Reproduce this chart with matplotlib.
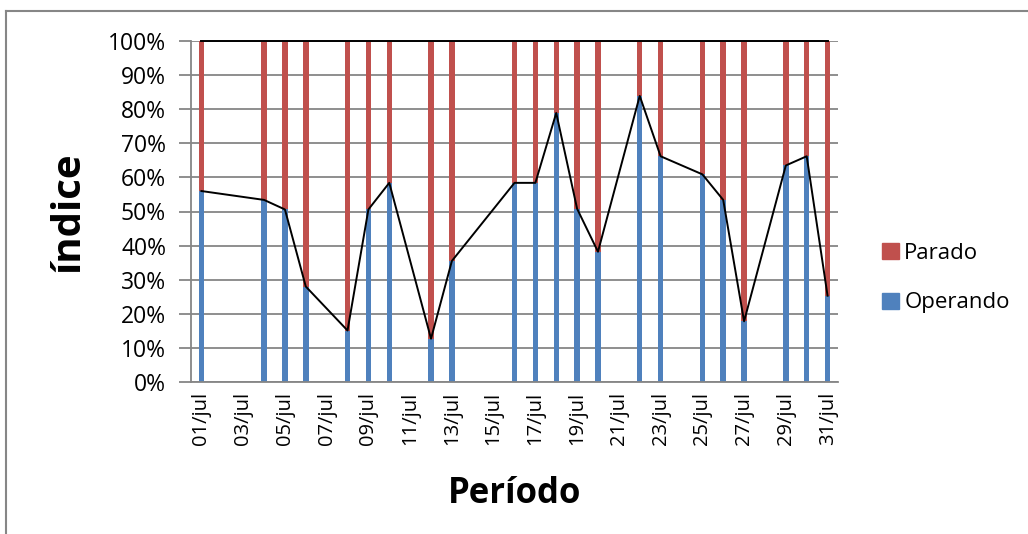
import numpy as np
import matplotlib.pyplot as plt
from matplotlib.patches import Patch
from matplotlib.lines import Line2D

plt.rcParams['font.family'] = ['Open Sans', 'DejaVu Sans']

# days of July with records, and share of time the machine was operating
dias = [1, 4, 5, 6, 8, 9, 10, 12, 13, 16, 17, 18, 19, 20, 22, 23, 25, 26, 27, 29, 30, 31]
operando = [0.560, 0.534, 0.506, 0.280, 0.151, 0.506, 0.584, 0.127, 0.355,
            0.584, 0.584, 0.789, 0.508, 0.382, 0.839, 0.662, 0.609, 0.534,
            0.178, 0.635, 0.662, 0.253]
parado = [1 - v for v in operando]
total = [a + b for a, b in zip(operando, parado)]

labels_x = ['%02d/jul' % d for d in range(1, 32, 2)]

azul = '#4F81BD'
vermelho = '#C0504D'
cinza = '#868686'

fig = plt.figure(figsize=(10.28, 5.34), dpi=100)
ax = fig.add_axes([191 / 1028, 1 - 382 / 534, 647 / 1028, 341 / 534])

ax.bar(dias, operando, width=0.26, color=azul, zorder=2)
ax.bar(dias, parado, width=0.26, bottom=operando, color=vermelho, zorder=2)
ax.plot(dias, operando, color='black', lw=1.4, zorder=3)
ax.plot(dias, total, color='black', lw=1.4, zorder=3, clip_on=False)

ax.set_xlim(0.5, 31.5)
ax.set_ylim(0, 1)
ax.set_yticks(np.arange(0, 1.01, 0.1))
ax.set_yticklabels(['%d%%' % (v * 10) for v in range(11)], fontsize=16.5)
ax.set_xticks(range(1, 32, 2))
ax.set_xticklabels(labels_x, rotation=90, fontsize=14.5)
ax.tick_params(axis='y', length=9, width=1.3, color=cinza, pad=9)
ax.tick_params(axis='x', length=0, pad=7)

ax.grid(axis='y', color=cinza, lw=1.3, zorder=0)
ax.set_axisbelow(True)
for s in ['top', 'right']:
    ax.spines[s].set_visible(False)
for s in ['left', 'bottom']:
    ax.spines[s].set_color(cinza)
    ax.spines[s].set_linewidth(1.3)

ax.set_ylabel('índice', fontsize=29, fontweight='bold')
ax.set_xlabel('Período', fontsize=25, fontweight='bold')
ax.yaxis.set_label_coords(-0.16, 0.5)
ax.xaxis.set_label_coords(0.5, -0.275)

handles = [Patch(color=vermelho, label='Parado'), Patch(color=azul, label='Operando')]
fig.legend(handles=handles, loc='center left', bbox_to_anchor=(862 / 1028, 1 - 278 / 534),
           frameon=False, fontsize=16, handlelength=0.75, handleheight=0.75,
           handletextpad=0.25, labelspacing=1.3)

# outer chart frame
fig.add_artist(Line2D([6 / 1028, 6 / 1028], [0, 1 - 11 / 534], transform=fig.transFigure,
                      color=cinza, lw=1.5))
fig.add_artist(Line2D([6 / 1028, 1], [1 - 11 / 534, 1 - 11 / 534], transform=fig.transFigure,
                      color=cinza, lw=1.5))

fig.savefig('out.png', dpi=100)
